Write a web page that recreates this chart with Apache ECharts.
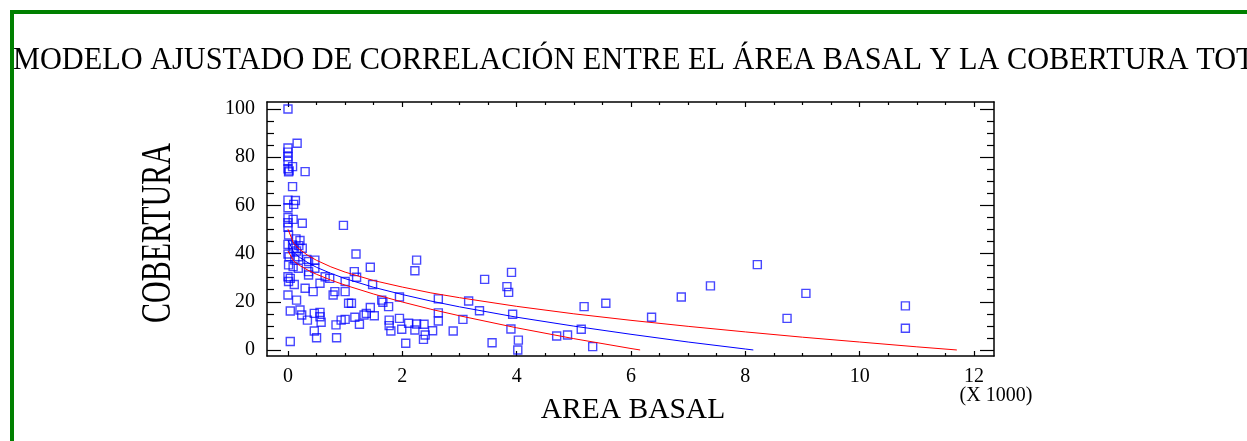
<!DOCTYPE html>
<html>
<head>
<meta charset="utf-8">
<script src="https://cdn.jsdelivr.net/npm/echarts@6/dist/echarts.min.js"></script>
<style>
html,body{margin:0;padding:0;background:#fff;}
#chart{width:1247px;height:441px;}
</style>
</head>
<body>
<div id="chart"></div>
<script>
// ---- Data (AREA BASAL in thousands, COBERTURA in %) ----
const areaBasal = [
  0.00,0.16,0.00,0.00,0.00,0.00,0.08,0.00,0.02,0.01,0.30,0.08,0.00,0.13,0.10,0.00,0.00,0.09,0.25,0.00,
  0.97,0.00,0.01,0.14,0.21,0.00,0.08,0.19,0.25,0.09,0.15,0.00,0.02,0.18,0.33,0.12,0.47,0.36,0.01,0.09,
  0.18,0.36,0.47,0.00,0.04,0.01,0.11,0.36,0.56,0.65,0.73,1.00,0.30,0.44,0.82,1.00,0.79,0.00,0.15,1.06,
  1.11,0.04,0.21,0.24,0.46,0.56,0.56,1.00,0.93,0.34,0.58,0.84,0.46,0.50,0.85,0.04,
  1.19,1.16,1.20,1.44,1.48,2.25,2.22,1.95,2.63,1.64,1.66,1.76,1.44,1.17,1.25,1.33,1.37,1.51,1.77,1.77,
  1.80,1.95,1.99,2.11,2.22,2.25,2.38,2.40,2.37,2.53,2.06,2.63,2.63,
  3.91,3.44,3.83,3.86,3.16,3.35,3.06,3.93,2.89,3.90,3.57,4.03,4.02,5.18,5.56,5.13,4.70,4.89,5.33,6.36,
  6.88,7.39,8.21,9.06,8.73,10.80,10.80
];
const cobertura = [
  100.0,85.8,83.8,82.1,80.2,78.3,76.1,75.2,74.3,73.9,74.0,67.8,62.2,62.0,60.4,59.0,55.0,54.2,52.6,52.8,
  51.7,50.9,47.7,46.1,45.4,43.8,43.6,43.3,42.2,42.2,41.1,39.8,38.7,38.7,37.6,37.3,37.3,36.7,35.3,34.6,
  33.9,32.5,33.9,30.4,29.7,28.4,27.2,31.1,27.7,30.4,29.7,28.4,25.6,24.2,24.2,24.2,22.8,22.8,20.7,19.4,
  19.4,16.2,16.6,14.5,15.2,15.6,13.8,12.7,12.4,12.4,11.5,10.4,7.9,5.1,5.1,3.5,
  39.8,32.5,30.2,34.3,27.2,37.3,32.9,22.0,21.2,20.7,19.8,18.0,17.6,13.6,10.7,14.5,15.2,14.2,12.4,10.1,
  7.9,13.1,8.6,11.1,8.3,10.8,10.7,6.2,4.4,8.0,2.8,12.0,15.4,
  32.2,29.3,26.3,23.9,20.3,16.3,12.7,14.8,7.9,8.7,3.0,4.1,0.0,18.0,19.4,8.6,5.8,6.2,1.4,13.6,
  22.0,26.6,35.4,23.5,13.1,18.3,9.0
];

// Fitted model (blue) and limits (red)
const fitX   = [0,0.1,0.2,0.35,0.5,0.75,1,1.5,2,2.5,3,4,5,6,7,8,8.14];
const fitY   = [45.6,40.5,38.5,36.2,34.3,31.8,29.6,26.0,23.0,20.3,17.9,13.6,9.9,6.5,3.3,0.4,0.0];
const upperX = [0,0.1,0.2,0.35,0.5,0.75,1,1.5,2,2.5,3,4,5,6,7,8,9,10,11,11.7];
const upperY = [50.1,44.2,41.8,39.2,37.2,34.5,32.3,28.8,26.1,23.7,21.7,18.1,15.0,12.3,9.8,7.5,5.3,3.3,1.3,0.0];
const lowerX = [0,0.1,0.2,0.35,0.5,0.75,1,1.5,2,2.5,3,4,5,6,6.16];
const lowerY = [41.1,36.9,35.1,33.1,31.4,29.0,26.9,23.2,19.9,16.9,14.2,9.2,4.7,0.6,0.0];

// Ticks
const xMajor = [0,2,4,6,8,10,12];
const xMinor = [0.5,1,1.5,2.5,3,3.5,4.5,5,5.5,6.5,7,7.5,8.5,9,9.5,10.5,11,11.5];
const yMajor = [0,20,40,60,80,100];
const yMinor = [5,10,15,25,30,35,45,50,55,65,70,75,85,90,95];

const titleText = 'MODELO AJUSTADO DE CORRELACIÓN ENTRE EL ÁREA BASAL Y LA COBERTURA TOTAL';
const xName = 'AREA BASAL';
const xUnit = '(X 1000)';
const yName = 'COBERTURA';

const FONT = "'Liberation Serif','Times New Roman',serif";
const X_MIN = -0.367, X_MAX = 12.35, Y_MIN = -2.5, Y_MAX = 102.9;

function zip(a, b) { return a.map((v, i) => [v, b[i]]); }

function xAx(pos, ticks, len, labels, line) {
  return {
    type: 'value', position: pos, min: X_MIN, max: X_MAX, gridIndex: 0,
    axisLine: { show: line, onZero: false, lineStyle: { color: '#000', width: 1.5 } },
    axisTick: { show: true, inside: true, length: len, customValues: ticks, lineStyle: { color: '#000', width: 1.2 } },
    axisLabel: labels ? { show: true, customValues: ticks, margin: 11, fontSize: 20, fontFamily: FONT, color: '#000' } : { show: false },
    splitLine: { show: false }
  };
}
function yAx(pos, ticks, len, labels, line) {
  return {
    type: 'value', position: pos, min: Y_MIN, max: Y_MAX, gridIndex: 0,
    axisLine: { show: line, onZero: false, lineStyle: { color: '#000', width: 1.5 } },
    axisTick: { show: true, inside: true, length: len, customValues: ticks, lineStyle: { color: '#000', width: 1.2 } },
    axisLabel: labels ? { show: true, customValues: ticks, margin: 12, fontSize: 20, fontFamily: FONT, color: '#000' } : { show: false },
    splitLine: { show: false }
  };
}

const chart = echarts.init(document.getElementById('chart'), null, { renderer: 'canvas' });
chart.setOption({
  animation: false,
  backgroundColor: '#fff',
  grid: { left: 267, top: 102, width: 727, height: 254, containLabel: false },
  xAxis: [
    xAx('bottom', xMajor, 5, true, true),
    xAx('bottom', xMinor, 3, false, false),
    xAx('top', xMajor, 5, false, true),
    xAx('top', xMinor, 3, false, false)
  ],
  yAxis: [
    yAx('left', yMajor, 14, true, true),
    yAx('left', yMinor, 7, false, false),
    yAx('right', yMajor, 14, false, true),
    yAx('right', yMinor, 7, false, false)
  ],
  series: [
    {
      type: 'scatter', xAxisIndex: 0, yAxisIndex: 0,
      data: zip(areaBasal, cobertura),
      symbol: 'rect', symbolSize: 8,
      itemStyle: { color: 'rgba(0,0,0,0)', borderColor: 'rgba(0,0,255,0.9)', borderWidth: 1.4 },
      z: 2
    },
    {
      type: 'line', xAxisIndex: 0, yAxisIndex: 0, data: zip(fitX, fitY),
      showSymbol: false, symbol: 'none', lineStyle: { color: '#0000ff', width: 1 }, z: 3
    },
    {
      type: 'line', xAxisIndex: 0, yAxisIndex: 0, data: zip(upperX, upperY),
      showSymbol: false, symbol: 'none', lineStyle: { color: '#ff0000', width: 1 }, z: 3
    },
    {
      type: 'line', xAxisIndex: 0, yAxisIndex: 0, data: zip(lowerX, lowerY),
      showSymbol: false, symbol: 'none', lineStyle: { color: '#ff0000', width: 1 }, z: 3
    }
  ],
  graphic: [
    { type: 'text', x: 13, y: 60.5, scaleY: 1.06, z: 10,
      style: { text: titleText, fontSize: 30.3, fontFamily: FONT, fill: '#000', align: 'left', verticalAlign: 'middle' } },
    { type: 'text', x: 159, y: 233, rotation: Math.PI / 2, scaleY: 1.4, z: 10,
      style: { text: yName, fontSize: 30, fontFamily: FONT, fill: '#000', align: 'center', verticalAlign: 'middle' } },
    { type: 'text', x: 633, y: 410.5, z: 10,
      style: { text: xName, fontSize: 29.5, fontFamily: FONT, fill: '#000', align: 'center', verticalAlign: 'middle' } },
    { type: 'text', x: 996, y: 396, z: 10,
      style: { text: xUnit, fontSize: 20, fontFamily: FONT, fill: '#000', align: 'center', verticalAlign: 'middle' } },
    { type: 'line', z: 20, shape: { x1: 10, y1: 12, x2: 1247, y2: 12 }, style: { stroke: '#008000', lineWidth: 4 } },
    { type: 'line', z: 20, shape: { x1: 12, y1: 10, x2: 12, y2: 441 }, style: { stroke: '#008000', lineWidth: 4 } }
  ]
});
</script>
</body>
</html>
